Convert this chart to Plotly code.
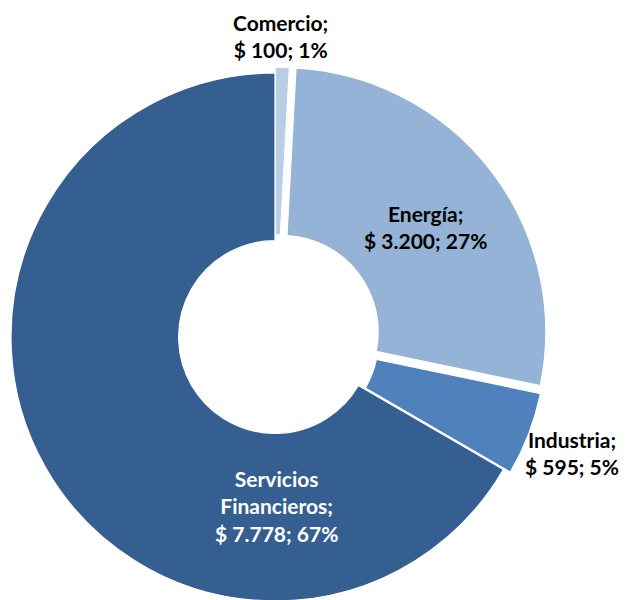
import math
import plotly.graph_objects as go

# Data
sectores = ["Comercio", "Energía", "Industria", "Servicios<br>Financieros"]
montos = [100, 3200, 595, 7778]
porcentajes = ["1%", "27%", "5%", "67%"]
montos_txt = ["$ 100", "$ 3.200", "$ 595", "$ 7.778"]

# Styles
colores = ["#B9CDE5", "#95B3D7", "#4F81BD", "#365F91"]
pull_px = [6, 8.6, 7.5, 0]          # explosion distance of each slice (px)
label_colors = ["black", "black", "black", "white"]
label_px = [(280, 36), (425, 227), (572, 453), (276, 506)]  # label centres, page px

OFF = 8  # page body margin
W, H = 619, 600
cx, cy = 275 - OFF, 337 - OFF
r = 264

total = sum(montos)
labels_plain = [s.replace("<br>", " ") for s in sectores]

fig = go.Figure()
start = 0.0
for i, v in enumerate(montos):
    frac = v / total
    theta = 2 * math.pi * (start + frac / 2)
    start += frac
    pcx = cx + pull_px[i] * math.sin(theta)
    pcy = cy - pull_px[i] * math.cos(theta)
    cols = [colores[j] if j == i else "rgba(0,0,0,0)" for j in range(len(montos))]
    lcols = ["white" if j == i else "rgba(0,0,0,0)" for j in range(len(montos))]
    fig.add_trace(go.Pie(
        labels=labels_plain,
        values=montos,
        sort=False,
        direction="clockwise",
        rotation=0,
        hole=0.365,
        marker=dict(colors=cols, line=dict(color=lcols, width=1.2)),
        textinfo="none",
        hoverinfo="label+value+percent" if i == 0 else "skip",
        domain=dict(x=[(pcx - r) / W, (pcx + r) / W],
                    y=[1 - (pcy + r) / H, 1 - (pcy - r) / H]),
        showlegend=False,
    ))

for s, m, p, col, (px, py) in zip(sectores, montos_txt, porcentajes, label_colors, label_px):
    fig.add_annotation(
        x=(px - OFF) / W, y=1 - (py - OFF) / H, xref="paper", yref="paper",
        text=f"<b>{s};<br>{m}; {p}</b>", showarrow=False,
        xanchor="center", yanchor="middle", align="center",
        font=dict(family="Lato", size=21, color=col),
    )

fig.update_layout(
    width=W, height=H,
    margin=dict(l=0, r=0, t=0, b=0),
    paper_bgcolor="white", plot_bgcolor="white",
)
fig.write_html("out.html")
